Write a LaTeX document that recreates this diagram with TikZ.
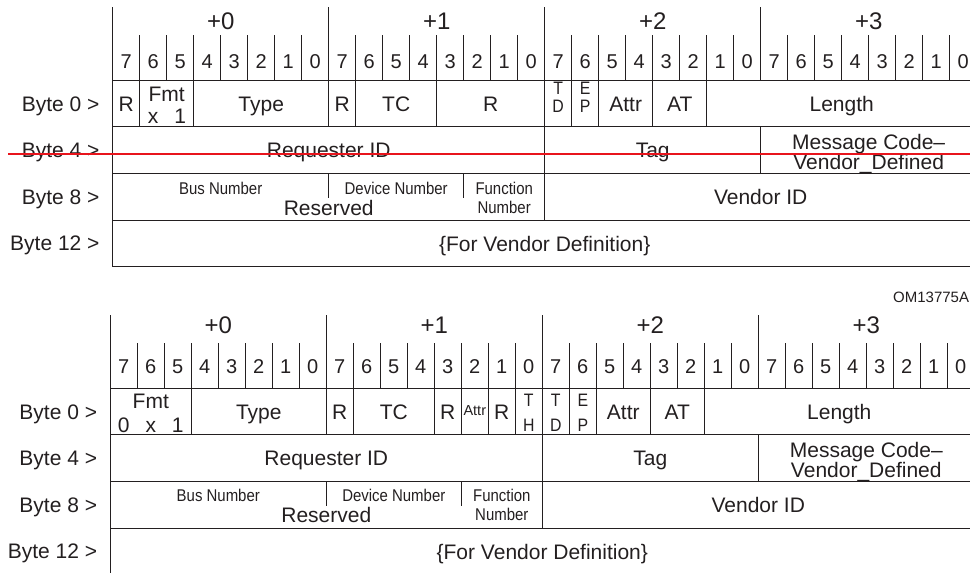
\documentclass[tikz,border=0pt]{standalone}
\usepackage{fontspec}
\setmainfont{Liberation Sans}
\newfontfamily\narrowfont[FakeStretch=0.88]{Liberation Sans}
\definecolor{ink}{HTML}{231F20}
\definecolor{redline}{RGB}{232,20,28}
\tikzset{
  gl/.style={draw=ink, line width=1pt},
  txb/.style={text=ink, inner sep=0pt, anchor=base},
  tx/.style={txb, font=\fontsize{21}{20}\selectfont, yshift=-7.5pt},
  bignum/.style={txb, font=\fontsize{24}{24}\selectfont, yshift=-8.6pt},
  bitnum/.style={txb, font=\fontsize{20}{20}\selectfont, yshift=-7.2pt},
  lbl/.style={tx, anchor=base east, xshift=-13pt},
  sm/.style={txb, font=\narrowfont\fontsize{17}{19}\selectfont, yshift=-6.1pt},
  stk/.style={txb, font=\narrowfont\fontsize{18}{18}\selectfont, yshift=-6.5pt},
  tinytx/.style={txb, font=\fontsize{14.5}{14.5}\selectfont, yshift=-5.2pt},
  twoline/.style={align=center},
}
\begin{document}
\begin{tikzpicture}[x=1pt,y=-1pt]
\useasboundingbox (0,0) rectangle (970,573);
\clip (0,0) rectangle (970,573);

% ================= TOP DIAGRAM =================
\begin{scope}[x=27pt, y=-1pt, xshift=112.7pt]
  % frame
  \draw[gl] (0,7) -- (0,266.7);
  \draw[gl] (32,7) -- (32,266.7);
  \foreach \i in {8,16,24} \draw[gl] (\i,7) -- (\i,80);
  \foreach \i in {1,...,31} \draw[gl] (\i,35) -- (\i,80);
  \foreach \yy in {80,126.7,173.3,220,266.7} \draw[gl] (0,\yy) -- (32,\yy);
  % byte numbers
  \node[bignum] (ta0) at (4,21) {+0};
  \node[bignum] (ta1) at (12,21) {+1};
  \node[bignum] (ta2) at (20,21) {+2};
  \node[bignum] (ta3) at (28,21) {+3};
  % bit numbers
  \foreach \i in {0,...,31} {
    \pgfmathtruncatemacro\d{7-mod(\i,8)}
    \node[bitnum] (tb\i) at (\i+0.5,61) {\d};
  }
  % row labels
  \node[lbl] (tl0) at (0,104) {Byte 0 >};
  \node[lbl] (tl4) at (0,150) {Byte 4 >};
  \node[lbl] (tl8) at (0,197) {Byte 8 >};
  \node[lbl] (tl12) at (0,243) {Byte 12 >};
  % byte 0 row
  \foreach \i in {1,3,8,9,12,16,17,18,20,22} \draw[gl] (\i,80) -- (\i,126.7);
  \node[tx] (tR1) at (0.5,104) {R};
  \node[tx] (tFmt) at (2,94) {Fmt};
  \node[tx] (tFx) at (1.5,116) {x};
  \node[tx] (tF1) at (2.5,116) {1};
  \node[tx] (tType) at (5.5,104) {Type};
  \node[tx] (tR2) at (8.5,104) {R};
  \node[tx] (tTC) at (10.5,104) {TC};
  \node[tx] (tR3) at (14,104) {R};
  \node[stk] (tT) at (16.5,87.5) {T};
  \node[stk] (tD) at (16.5,106) {D};
  \node[stk] (tE) at (17.5,87.5) {E};
  \node[stk] (tP) at (17.5,106) {P};
  \node[tx] (tAttr) at (19,104) {Attr};
  \node[tx] (tAT) at (21,104) {AT};
  \node[tx] (tLen) at (27,104) {Length};
  % byte 4 row
  \foreach \i in {16,24} \draw[gl] (\i,126.7) -- (\i,173.3);
  \node[tx] (tReq) at (8,150) {Requester ID};
  \node[tx] (tTag) at (20,150) {Tag};
  \node[tx, twoline] (tMsg) at (28,162) {Message Code–\\Vendor\_Defined};
  % byte 8 row
  \foreach \i in {8,13} \draw[gl] (\i,173.3) -- (\i,197.5);
  \draw[gl] (16,173.3) -- (16,220);
  \node[sm] (tBus) at (4,188) {Bus Number};
  \node[sm] (tDev) at (10.5,188) {Device Number};
  \node[sm, twoline] (tFun) at (14.5,207) {Function\\Number};
  \node[tx] (tRes) at (8,208) {Reserved};
  \node[tx] (tVid) at (24,197) {Vendor ID};
  % byte 12 row
  \node[tx] (tVdef) at (16,244) {\{For Vendor Definition\}};
\end{scope}

% OM label
\node[txb, anchor=base west, font=\fontsize{15}{15}\selectfont, yshift=-5.4pt] (om) at (893,297) {OM13775A};

% ================= BOTTOM DIAGRAM =================
\begin{scope}[x=27pt, y=-1pt, xshift=110.3pt, yshift=-308pt]
  % frame
  \draw[gl] (0,7) -- (0,266.7);
  \draw[gl] (32,7) -- (32,266.7);
  \foreach \i in {8,16,24} \draw[gl] (\i,7) -- (\i,80);
  \foreach \i in {1,...,31} \draw[gl] (\i,35) -- (\i,80);
  \foreach \yy in {80,126.7,173.3,220,266.7} \draw[gl] (0,\yy) -- (32,\yy);
  % byte numbers
  \node[bignum] (ba0) at (4,17) {+0};
  \node[bignum] (ba1) at (12,17) {+1};
  \node[bignum] (ba2) at (20,17) {+2};
  \node[bignum] (ba3) at (28,17) {+3};
  % bit numbers
  \foreach \i in {0,...,31} {
    \pgfmathtruncatemacro\d{7-mod(\i,8)}
    \node[bitnum] (bb\i) at (\i+0.5,57.8) {\d};
  }
  % row labels
  \node[lbl] (bl0) at (0,104) {Byte 0 >};
  \node[lbl] (bl4) at (0,150) {Byte 4 >};
  \node[lbl] (bl8) at (0,197) {Byte 8 >};
  \node[lbl] (bl12) at (0,243) {Byte 12 >};
  % byte 0 row
  \foreach \i in {3,8,9,12,13,14,15,16,17,18,20,22} \draw[gl] (\i,80) -- (\i,126.7);
  \node[tx] (bFmt) at (1.5,92.7) {Fmt};
  \node[tx] (bF0) at (0.5,117) {0};
  \node[tx] (bFx) at (1.5,117) {x};
  \node[tx] (bF1) at (2.5,117) {1};
  \node[tx] (bType) at (5.5,104) {Type};
  \node[tx] (bR1) at (8.5,104) {R};
  \node[tx] (bTC) at (10.5,104) {TC};
  \node[tx] (bR2) at (12.5,104) {R};
  \node[tinytx] (bAttrS) at (13.5,102) {Attr};
  \node[tx] (bR3) at (14.5,104) {R};
  \node[stk] (bT1) at (15.5,92) {T};
  \node[stk] (bH) at (15.5,117) {H};
  \node[stk] (bT2) at (16.5,92) {T};
  \node[stk] (bD) at (16.5,117) {D};
  \node[stk] (bE) at (17.5,92) {E};
  \node[stk] (bP) at (17.5,117) {P};
  \node[tx] (bAttr) at (19,104) {Attr};
  \node[tx] (bAT) at (21,104) {AT};
  \node[tx] (bLen) at (27,104) {Length};
  % byte 4 row
  \foreach \i in {16,24} \draw[gl] (\i,126.7) -- (\i,173.3);
  \node[tx] (bReq) at (8,150) {Requester ID};
  \node[tx] (bTag) at (20,150) {Tag};
  \node[tx, twoline] (bMsg) at (28,162) {Message Code–\\Vendor\_Defined};
  % byte 8 row
  \foreach \i in {8,13} \draw[gl] (\i,173.3) -- (\i,197.5);
  \draw[gl] (16,173.3) -- (16,220);
  \node[sm] (bBus) at (4,187) {Bus Number};
  \node[sm] (bDev) at (10.5,187) {Device Number};
  \node[sm, twoline] (bFun) at (14.5,206) {Function\\Number};
  \node[tx] (bRes) at (8,207) {Reserved};
  \node[tx] (bVid) at (24,197) {Vendor ID};
  % byte 12 row
  \node[tx] (bVdef) at (16,244) {\{For Vendor Definition\}};
\end{scope}

% red strike line (drawn last)
\coordinate (rs) at (8,154);
\coordinate (re) at (970,154);
\draw[redline, line width=2pt] (rs) -- (re);
\end{tikzpicture}
\end{document}
